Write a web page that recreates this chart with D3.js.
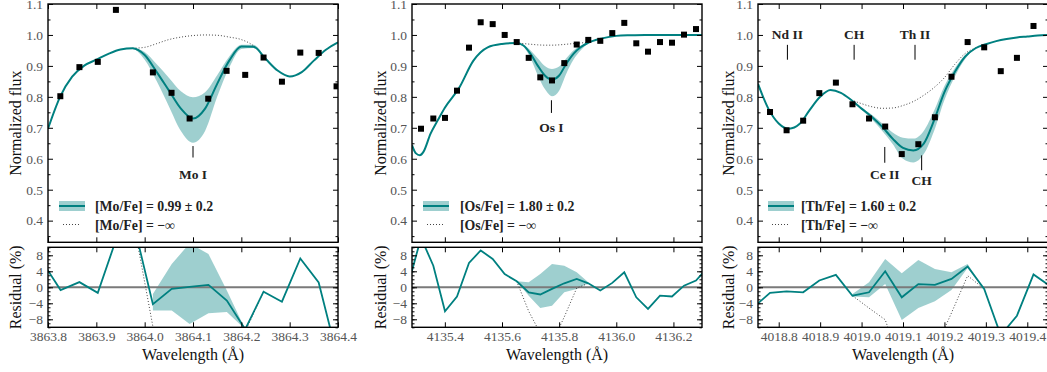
<!DOCTYPE html>
<html>
<head>
<meta charset="utf-8">
<script src="https://cdn.jsdelivr.net/npm/d3@7"></script>
<style>
  body { margin: 0; background: #fff; }
  svg { display: block; font-family: "Liberation Serif", "Times New Roman", serif; }
</style>
</head>
<body>
<svg id="chart" width="1047" height="372"></svg>
<script>
// ---------- Mo I panel ----------
const moTicks = [3863.8, 3863.9, 3864.0, 3864.1, 3864.2, 3864.3, 3864.4];
const moObsWave = [3863.8255, 3863.865, 3863.903, 3863.9405, 3864.017, 3864.0556, 3864.093, 3864.1315,
  3864.1695, 3864.208, 3864.246, 3864.284, 3864.322, 3864.36, 3864.397];
const moObsFlux = [0.802, 0.896, 0.913, 1.081, 0.879, 0.813, 0.730, 0.794, 0.884, 0.871, 0.927, 0.849,
  0.943, 0.942, 0.834];
const moFitWave = [3863.800, 3863.825, 3863.850, 3863.875, 3863.900, 3863.925, 3863.950, 3863.975,
  3864.000, 3864.025, 3864.050, 3864.075, 3864.100, 3864.125, 3864.150, 3864.175, 3864.200, 3864.225,
  3864.250, 3864.275, 3864.300, 3864.325, 3864.350, 3864.375, 3864.400];
const moFitFlux = [0.697, 0.800, 0.865, 0.901, 0.920, 0.939, 0.953, 0.957, 0.935, 0.880, 0.821, 0.762,
  0.730, 0.762, 0.842, 0.917, 0.963, 0.962, 0.923, 0.885, 0.866, 0.880, 0.917, 0.952, 0.976];
const moBandWave = [3863.950, 3863.975, 3864.000, 3864.025, 3864.050, 3864.075, 3864.100, 3864.125,
  3864.150, 3864.175, 3864.200, 3864.225, 3864.250];
const moBandHi = [0.953, 0.957, 0.945, 0.905, 0.862, 0.818, 0.799, 0.815, 0.870, 0.930, 0.968, 0.968, 0.923];
const moBandLo = [0.953, 0.955, 0.920, 0.850, 0.770, 0.690, 0.652, 0.690, 0.800, 0.895, 0.955, 0.958, 0.923];
const moNoneWave = [3863.975, 3864.000, 3864.025, 3864.050, 3864.075, 3864.100, 3864.125, 3864.150,
  3864.175, 3864.200, 3864.225, 3864.250];
const moNoneFlux = [0.957, 0.960, 0.972, 0.985, 0.993, 0.998, 1.000, 0.999, 0.993, 0.985, 0.965, 0.923];
const moResWave = [3863.788, 3863.826, 3863.865, 3863.903, 3863.941, 3863.979, 3864.017, 3864.056,
  3864.093, 3864.132, 3864.170, 3864.208, 3864.246, 3864.284, 3864.322, 3864.360, 3864.398];
const moRes = [6.4, -0.7, 1.3, -1.4, 12, 15, -4.2, -0.4, 0.1, 0.6, -3.3, -10.5, -1.1, -3.6, 7.2, 1.2, -17];
const moResNoneWave = [3863.979, 3864.017, 3864.056, 3864.093, 3864.132, 3864.170, 3864.208, 3864.246];
const moResNone = [15, -9.8, -17, -27, -20, -13, -11.1, -1.1];
const moResBandWave = [3864.017, 3864.056, 3864.093, 3864.132, 3864.170, 3864.208];
const moResBandLo = [-5.8, -5.8, -9.2, -6.5, -6.2, -10.5];
const moResBandHi = [-1.7, 5.8, 11, 8.3, -0.8, -10.5];

// ---------- Os I panel ----------
const osTicks = [4135.4, 4135.6, 4135.8, 4136.0, 4136.2];
const osObsWave = [4135.3165, 4135.3596, 4135.4005, 4135.4425, 4135.4845, 4135.5254, 4135.5674, 4135.6094,
  4135.6515, 4135.6935, 4135.734, 4135.775, 4135.818, 4135.8615, 4135.902, 4135.944, 4135.986, 4136.028,
  4136.07, 4136.111, 4136.153, 4136.195, 4136.237, 4136.279];
const osObsFlux = [0.697, 0.730, 0.732, 0.820, 0.959, 1.041, 1.035, 1.000, 0.977, 0.926, 0.863, 0.853,
  0.909, 0.969, 0.984, 0.981, 1.006, 1.039, 0.973, 0.946, 0.977, 0.975, 1.001, 1.019];
const osFitWave = [4135.285, 4135.298, 4135.3125, 4135.325, 4135.350, 4135.375, 4135.400, 4135.450,
  4135.500, 4135.550, 4135.600, 4135.650, 4135.675, 4135.700, 4135.725, 4135.750, 4135.775, 4135.800,
  4135.825, 4135.850, 4135.875, 4135.900, 4135.950, 4136.000, 4136.050, 4136.100, 4136.200, 4136.300];
const osFitFlux = [0.644, 0.618, 0.611, 0.622, 0.681, 0.724, 0.765, 0.829, 0.917, 0.960, 0.971, 0.974,
  0.966, 0.939, 0.901, 0.869, 0.856, 0.869, 0.907, 0.939, 0.960, 0.974, 0.989, 0.997, 0.999, 1.000,
  1.000, 1.000];
const osBandWave = [4135.650, 4135.675, 4135.700, 4135.725, 4135.750, 4135.775, 4135.800, 4135.825,
  4135.850, 4135.875, 4135.900];
const osBandHi = [0.974, 0.968, 0.950, 0.925, 0.900, 0.890, 0.898, 0.925, 0.950, 0.966, 0.976];
const osBandLo = [0.974, 0.962, 0.925, 0.870, 0.825, 0.802, 0.820, 0.875, 0.920, 0.950, 0.972];
const osNoneWave = osBandWave;
const osNoneFlux = [0.974, 0.972, 0.970, 0.968, 0.967, 0.967, 0.968, 0.970, 0.972, 0.974, 0.976];
const osResWave = [4135.275, 4135.3165, 4135.3596, 4135.4005, 4135.4425, 4135.4845, 4135.5254, 4135.5674,
  4135.6094, 4135.6515, 4135.6935, 4135.734, 4135.775, 4135.818, 4135.8615, 4135.902, 4135.944, 4135.986,
  4136.028, 4136.07, 4136.111, 4136.153, 4136.195, 4136.237, 4136.279, 4136.321];
const osRes = [1.5, 12.4, 5.4, -6.0, -2.3, 6.1, 9.2, 7.1, 3.3, 1.5, -1.25, -1.8, -0.4, 1.0, 2.1, 1.0,
  -0.8, 1.1, 3.75, -2.5, -5.4, -2.1, -2.3, 0.4, 1.7, 5.0];
const osResNoneWave = [4135.6515, 4135.6935, 4135.734, 4135.775, 4135.818, 4135.8615, 4135.902];
const osResNone = [1.5, -6, -11.5, -14, -7.4, -0.2, 1.0];
const osResBandWave = osResNoneWave;
const osResBandLo = [1.5, -2.1, -5.2, -4.6, -1.25, -0.4, 1.0];
const osResBandHi = [1.5, 1.25, 3.3, 5.8, 5.4, 3.75, 1.25];

// ---------- Th II panel ----------
const thTicks = [4018.8, 4018.9, 4019.0, 4019.1, 4019.2, 4019.3, 4019.4];
const thObsWave = [4018.779, 4018.819, 4018.859, 4018.898, 4018.938, 4018.978, 4019.018, 4019.057,
  4019.097, 4019.137, 4019.177, 4019.217, 4019.256, 4019.296, 4019.336, 4019.375, 4019.415];
const thObsFlux = [0.751, 0.692, 0.723, 0.812, 0.846, 0.776, 0.730, 0.704, 0.615, 0.647, 0.734, 0.865,
  0.977, 0.960, 0.883, 0.926, 1.029];
const thFitWave = [4018.750, 4018.775, 4018.800, 4018.825, 4018.850, 4018.875, 4018.900, 4018.925,
  4018.950, 4018.975, 4019.000, 4019.025, 4019.050, 4019.075, 4019.100, 4019.125, 4019.150, 4019.175,
  4019.200, 4019.225, 4019.250, 4019.275, 4019.300, 4019.325, 4019.350, 4019.375, 4019.400, 4019.425,
  4019.450];
const thFitFlux = [0.842, 0.762, 0.714, 0.697, 0.712, 0.758, 0.800, 0.822, 0.813, 0.790, 0.762, 0.735,
  0.703, 0.665, 0.635, 0.627, 0.649, 0.724, 0.815, 0.880, 0.930, 0.957, 0.970, 0.980, 0.987, 0.992,
  0.995, 0.998, 1.000];
const thBandWave = [4018.975, 4019.000, 4019.025, 4019.050, 4019.075, 4019.100, 4019.125, 4019.150,
  4019.175, 4019.200, 4019.225, 4019.250, 4019.275];
const thBandHi = [0.792, 0.765, 0.742, 0.714, 0.685, 0.668, 0.665, 0.690, 0.755, 0.835, 0.892, 0.935, 0.957];
const thBandLo = [0.788, 0.758, 0.727, 0.690, 0.648, 0.600, 0.588, 0.615, 0.690, 0.790, 0.865, 0.922, 0.957];
const thNoneWave = [4018.975, 4019.000, 4019.025, 4019.050, 4019.075, 4019.100, 4019.125, 4019.150,
  4019.175, 4019.200, 4019.225, 4019.250, 4019.275, 4019.300];
const thNoneFlux = [0.790, 0.778, 0.768, 0.763, 0.764, 0.772, 0.785, 0.805, 0.830, 0.862, 0.905, 0.940,
  0.958, 0.970];
const thResWave = [4018.739, 4018.779, 4018.819, 4018.859, 4018.898, 4018.938, 4018.978, 4019.018,
  4019.057, 4019.097, 4019.137, 4019.177, 4019.217, 4019.256, 4019.296, 4019.336, 4019.375, 4019.415,
  4019.455];
const thRes = [-5.0, -1.4, -1.0, -1.25, 1.7, 3.1, -2.1, -1.25, 4.0, -2.5, 0.8, 0.6, 2.1, 5.2, -0.4,
  -12, -7.1, 3.2, 0.3];
const thResNoneWave = [4018.978, 4019.018, 4019.057, 4019.097, 4019.137, 4019.177, 4019.217, 4019.256,
  4019.296];
const thResNone = [-2.1, -5.2, -8.1, -20, -18, -15.7, -6.4, 2.9, -0.4];
const thResBandWave = thResNoneWave;
const thResBandLo = [-2.3, -2.5, 0.8, -8.2, -5.2, -3.5, -0.7, 4.8, -0.4];
const thResBandHi = [-1.7, 1.25, 7.1, 3.5, 6.8, 4.6, 3.75, 5.8, -0.4];

// shared axis ticks
const fluxTicks = [0.4, 0.5, 0.6, 0.7, 0.8, 0.9, 1.0, 1.1];
const fluxMinor = [0.35, 0.45, 0.55, 0.65, 0.75, 0.85, 0.95, 1.05];
const resTicks = [-8, -4, 0, 4, 8];
const resMinor = d3.range(-10, 11, 1);

const TEAL = "#008080";

const panels = [
  {
    left: 48, xDomain: [3863.8, 3864.4], ticks: moTicks, tickFmt: d3.format(".1f"),
    obs: [moObsWave, moObsFlux], fit: [moFitWave, moFitFlux],
    band: [moBandWave, moBandLo, moBandHi], none: [moNoneWave, moNoneFlux],
    res: [moResWave, moRes], resNone: [moResNoneWave, moResNone],
    resBand: [moResBandWave, moResBandLo, moResBandHi],
    elem: "Mo/Fe", abund: "0.99", ylab: 33, legPatch: 11, legText: 47,
    notes: [{ t: "Mo I", w: 3864.10, y0: 0.641, y1: 0.604, ty: 0.55 }]
  },
  {
    left: 412, xDomain: [4135.285, 4136.3], ticks: osTicks, tickFmt: d3.format(".1f"),
    obs: [osObsWave, osObsFlux], fit: [osFitWave, osFitFlux],
    band: [osBandWave, osBandLo, osBandHi], none: [osNoneWave, osNoneFlux],
    res: [osResWave, osRes], resNone: [osResNoneWave, osResNone],
    resBand: [osResBandWave, osResBandLo, osResBandHi],
    elem: "Os/Fe", abund: "1.80", ylab: 32, legPatch: 11, legText: 48,
    notes: [{ t: "Os I", w: 4135.773, y0: 0.789, y1: 0.748, ty: 0.70 }]
  },
  {
    left: 758, xDomain: [4018.75, 4019.45], ticks: thTicks, tickFmt: d3.format(".1f"),
    obs: [thObsWave, thObsFlux], fit: [thFitWave, thFitFlux],
    band: [thBandWave, thBandLo, thBandHi], none: [thNoneWave, thNoneFlux],
    res: [thResWave, thRes], resNone: [thResNoneWave, thResNone],
    resBand: [thResBandWave, thResBandLo, thResBandHi],
    elem: "Th/Fe", abund: "1.60", ylab: 30, legPatch: 10, legText: 43,
    notes: [
      { t: "Nd II", w: 4018.821, y0: 0.968, y1: 0.920, ty: 1.0 },
      { t: "CH", w: 4018.982, y0: 0.968, y1: 0.920, ty: 1.0 },
      { t: "Th II", w: 4019.129, y0: 0.968, y1: 0.920, ty: 1.0 },
      { t: "Ce II", w: 4019.056, y0: 0.638, y1: 0.587, ty: 0.55 },
      { t: "CH", w: 4019.145, y0: 0.611, y1: 0.563, ty: 0.53 }
    ]
  }
];

const plotW = 290;
const topY0 = 4, topY1 = 242.3, resY0 = 247.3, resY1 = 327.3;
const svg = d3.select("#chart");
const defs = svg.append("defs");

function zip(a, b) { return a.map((v, i) => [v, b[i]]); }

function frameAxes(g, x, y, y0, y1, left, yTicks, yMinor, yFmt, showX, p) {
  const right = left + plotW;
  // major x ticks, inward on bottom and top
  g.append("g").attr("transform", `translate(0,${y1})`)
    .call(d3.axisBottom(x).tickValues(p.ticks).tickSize(-5).tickPadding(4)
      .tickFormat(showX ? p.tickFmt : ""))
    .call(a => a.select(".domain").remove());
  g.append("g").attr("transform", `translate(0,${y0})`)
    .call(d3.axisTop(x).tickValues(p.ticks).tickSize(-5).tickFormat(""))
    .call(a => a.select(".domain").remove());
  // y ticks (major + minor) on left and right
  g.append("g").attr("transform", `translate(${left},0)`)
    .call(d3.axisLeft(y).tickValues(yTicks).tickSize(-5).tickPadding(5).tickFormat(yFmt))
    .call(a => a.select(".domain").remove());
  g.append("g").attr("transform", `translate(${left},0)`)
    .call(d3.axisLeft(y).tickValues(yMinor).tickSize(-2.5).tickFormat(""))
    .call(a => a.select(".domain").remove());
  g.append("g").attr("transform", `translate(${right},0)`)
    .call(d3.axisRight(y).tickValues(yTicks).tickSize(-5).tickFormat(""))
    .call(a => a.select(".domain").remove());
  g.append("g").attr("transform", `translate(${right},0)`)
    .call(d3.axisRight(y).tickValues(yMinor).tickSize(-2.5).tickFormat(""))
    .call(a => a.select(".domain").remove());
  g.selectAll(".tick line").attr("stroke", "#000").attr("stroke-width", 1);
  g.selectAll(".tick text").attr("fill", "#555").attr("font-size", 13.5)
    .attr("font-family", "Liberation Serif, serif");
  g.append("rect").attr("x", left).attr("y", y0).attr("width", plotW).attr("height", y1 - y0)
    .attr("fill", "none").attr("stroke", "#000").attr("stroke-width", 1.4);
}

panels.forEach((p, i) => {
  const left = p.left, right = left + plotW;
  const x = d3.scaleLinear().domain(p.xDomain).range([left, right]);
  const y = d3.scaleLinear().domain([0.33, 1.1]).range([topY1, topY0]);
  const yr = d3.scaleLinear().domain([-10, 10]).range([resY1, resY0]);

  defs.append("clipPath").attr("id", "ct" + i).append("rect")
    .attr("x", left).attr("y", topY0).attr("width", plotW).attr("height", topY1 - topY0);
  defs.append("clipPath").attr("id", "cr" + i).append("rect")
    .attr("x", left).attr("y", resY0).attr("width", plotW).attr("height", resY1 - resY0);

  const curve = d3.curveMonotoneX;
  const line = d3.line().x(d => x(d[0])).y(d => y(d[1])).curve(curve);
  const area = d3.area().x(d => x(d[0])).y0(d => y(d[1])).y1(d => y(d[2])).curve(curve);

  // ----- top: spectrum -----
  const top = svg.append("g").attr("clip-path", `url(#ct${i})`);
  top.append("path").datum(p.band[0].map((w, k) => [w, p.band[1][k], p.band[2][k]]))
    .attr("d", area).attr("fill", TEAL).attr("fill-opacity", 0.38);
  top.append("path").datum(zip(p.none[0], p.none[1])).attr("d", line)
    .attr("fill", "none").attr("stroke", "#444").attr("stroke-width", 1)
    .attr("stroke-dasharray", "1,2");
  top.append("path").datum(zip(p.fit[0], p.fit[1])).attr("d", line)
    .attr("fill", "none").attr("stroke", TEAL).attr("stroke-width", 2);
  top.selectAll("rect.obs").data(zip(p.obs[0], p.obs[1])).enter().append("rect")
    .attr("class", "obs")
    .attr("x", d => x(d[0]) - 3).attr("y", d => y(d[1]) - 3)
    .attr("width", 6).attr("height", 6).attr("fill", "#000");

  // line identifications
  p.notes.forEach(n => {
    svg.append("line").attr("x1", x(n.w)).attr("x2", x(n.w))
      .attr("y1", y(n.y0)).attr("y2", y(n.y1)).attr("stroke", "#000").attr("stroke-width", 1);
    svg.append("text").attr("x", x(n.w)).attr("y", y(n.ty) + 4.5)
      .attr("text-anchor", "middle").attr("font-size", 13.5).attr("font-weight", "bold")
      .attr("fill", "#222").text(n.t);
  });

  // legend
  const lg = svg.append("g");
  lg.append("rect").attr("x", left + p.legPatch).attr("y", 201).attr("width", 26).attr("height", 10)
    .attr("fill", TEAL).attr("fill-opacity", 0.38);
  lg.append("line").attr("x1", left + p.legPatch).attr("x2", left + p.legPatch + 26)
    .attr("y1", 206).attr("y2", 206).attr("stroke", TEAL).attr("stroke-width", 2);
  lg.append("line").attr("x1", left + p.legPatch + 4).attr("x2", left + p.legPatch + 22)
    .attr("y1", 224.5).attr("y2", 224.5).attr("stroke", "#444").attr("stroke-width", 1)
    .attr("stroke-dasharray", "1,2");
  lg.append("text").attr("x", left + p.legText).attr("y", 210.5).attr("font-size", 13.8)
    .attr("font-weight", "bold").attr("fill", "#222").text(`[${p.elem}] = ${p.abund} ± 0.2`);
  lg.append("text").attr("x", left + p.legText).attr("y", 230).attr("font-size", 13.8)
    .attr("font-weight", "bold").attr("fill", "#222").text(`[${p.elem}] = −∞`);

  frameAxes(svg.append("g"), x, y, topY0, topY1, left, fluxTicks, fluxMinor,
    d3.format(".1f"), false, p);

  svg.append("text")
    .attr("transform", `translate(${left - p.ylab},${(topY0 + topY1) / 2}) rotate(-90)`)
    .attr("text-anchor", "middle").attr("dy", "0.35em").attr("font-size", 16)
    .attr("fill", "#111").text("Normalized flux");

  // ----- bottom: residuals -----
  const rline = d3.line().x(d => x(d[0])).y(d => yr(d[1]));
  const rarea = d3.area().x(d => x(d[0])).y0(d => yr(d[1])).y1(d => yr(d[2]));
  const bot = svg.append("g").attr("clip-path", `url(#cr${i})`);
  bot.append("path").datum(p.resBand[0].map((w, k) => [w, p.resBand[1][k], p.resBand[2][k]]))
    .attr("d", rarea).attr("fill", TEAL).attr("fill-opacity", 0.38);
  bot.append("line").attr("x1", left).attr("x2", right).attr("y1", yr(0)).attr("y2", yr(0))
    .attr("stroke", "#7a7a7a").attr("stroke-width", 2);
  bot.append("path").datum(zip(p.resNone[0], p.resNone[1])).attr("d", rline)
    .attr("fill", "none").attr("stroke", "#444").attr("stroke-width", 1)
    .attr("stroke-dasharray", "1,2");
  bot.append("path").datum(zip(p.res[0], p.res[1])).attr("d", rline)
    .attr("fill", "none").attr("stroke", TEAL).attr("stroke-width", 1.8);

  frameAxes(svg.append("g"), x, yr, resY0, resY1, left, resTicks, resMinor,
    d => d3.format("d")(d).replace("-", "−"), true, p);

  svg.append("text")
    .attr("transform", `translate(${left - p.ylab},${(resY0 + resY1) / 2}) rotate(-90)`)
    .attr("text-anchor", "middle").attr("dy", "0.35em").attr("font-size", 16)
    .attr("fill", "#111").text("Residual (%)");

  svg.append("text").attr("x", (left + right) / 2).attr("y", 360)
    .attr("text-anchor", "middle").attr("font-size", 16).attr("fill", "#111")
    .text("Wavelength (Å)");
});
</script>
</body>
</html>
